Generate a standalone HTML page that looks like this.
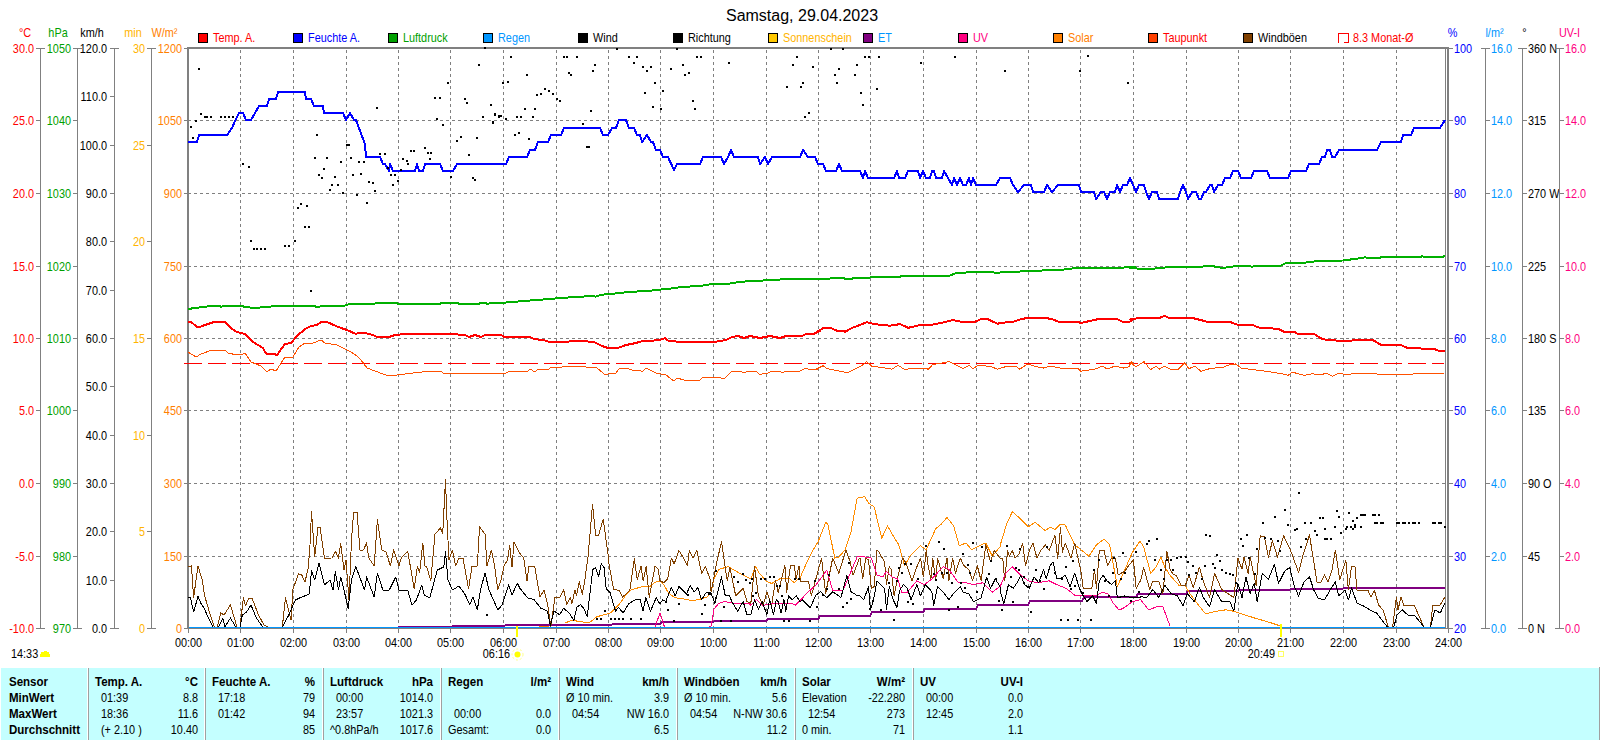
<!DOCTYPE html>
<html><head><meta charset="utf-8"><style>
html,body{margin:0;padding:0;background:#fff;width:1600px;height:740px;overflow:hidden}
svg{display:block;font-family:"Liberation Sans", sans-serif}
</style></head><body>
<svg width="1600" height="740" viewBox="0 0 1600 740" shape-rendering="crispEdges">
<text transform="translate(802 21) scale(1 1)" fill="#000" text-anchor="middle" font-size="16" font-weight="normal" >Samstag, 29.04.2023</text><rect x="198.5" y="33.5" width="9" height="9" fill="#ff0000" stroke="#000" stroke-width="1"/><text transform="translate(213 42) scale(0.87 1)" fill="#ff0000" text-anchor="start" font-size="12.5" font-weight="normal" >Temp. A.</text><rect x="293.5" y="33.5" width="9" height="9" fill="#0000ff" stroke="#000" stroke-width="1"/><text transform="translate(308 42) scale(0.87 1)" fill="#0000ff" text-anchor="start" font-size="12.5" font-weight="normal" >Feuchte A.</text><rect x="388.5" y="33.5" width="9" height="9" fill="#00a000" stroke="#000" stroke-width="1"/><text transform="translate(403 42) scale(0.87 1)" fill="#00a000" text-anchor="start" font-size="12.5" font-weight="normal" >Luftdruck</text><rect x="483.5" y="33.5" width="9" height="9" fill="#0096ff" stroke="#000" stroke-width="1"/><text transform="translate(498 42) scale(0.87 1)" fill="#0096ff" text-anchor="start" font-size="12.5" font-weight="normal" >Regen</text><rect x="578.5" y="33.5" width="9" height="9" fill="#000000" stroke="#000" stroke-width="1"/><text transform="translate(593 42) scale(0.87 1)" fill="#000000" text-anchor="start" font-size="12.5" font-weight="normal" >Wind</text><rect x="673.5" y="33.5" width="9" height="9" fill="#000000" stroke="#000" stroke-width="1"/><text transform="translate(688 42) scale(0.87 1)" fill="#000000" text-anchor="start" font-size="12.5" font-weight="normal" >Richtung</text><rect x="768.5" y="33.5" width="9" height="9" fill="#ffc800" stroke="#000" stroke-width="1"/><text transform="translate(783 42) scale(0.87 1)" fill="#ffb400" text-anchor="start" font-size="12.5" font-weight="normal" >Sonnenschein</text><rect x="863.5" y="33.5" width="9" height="9" fill="#800080" stroke="#000" stroke-width="1"/><text transform="translate(878 42) scale(0.87 1)" fill="#0096ff" text-anchor="start" font-size="12.5" font-weight="normal" >ET</text><rect x="958.5" y="33.5" width="9" height="9" fill="#ff0080" stroke="#000" stroke-width="1"/><text transform="translate(973 42) scale(0.87 1)" fill="#ff0080" text-anchor="start" font-size="12.5" font-weight="normal" >UV</text><rect x="1053.5" y="33.5" width="9" height="9" fill="#ff8000" stroke="#000" stroke-width="1"/><text transform="translate(1068 42) scale(0.87 1)" fill="#ff8000" text-anchor="start" font-size="12.5" font-weight="normal" >Solar</text><rect x="1148.5" y="33.5" width="9" height="9" fill="#ff4000" stroke="#000" stroke-width="1"/><text transform="translate(1163 42) scale(0.87 1)" fill="#ff0000" text-anchor="start" font-size="12.5" font-weight="normal" >Taupunkt</text><rect x="1243.5" y="33.5" width="9" height="9" fill="#804000" stroke="#000" stroke-width="1"/><text transform="translate(1258 42) scale(0.87 1)" fill="#000000" text-anchor="start" font-size="12.5" font-weight="normal" >Windböen</text><path d="M1338.5 43 V33.5 H1348.5 V42.5 H1344" fill="none" stroke="#ff0000" stroke-width="1"/><text transform="translate(1353 42) scale(0.87 1)" fill="#ff0000" text-anchor="start" font-size="12.5" font-weight="normal" >8.3 Monat-Ø</text><text transform="translate(25 37) scale(0.87 1)" fill="#ff0000" text-anchor="middle" font-size="12.5" font-weight="normal" >°C</text><text transform="translate(58 37) scale(0.87 1)" fill="#00a000" text-anchor="middle" font-size="12.5" font-weight="normal" >hPa</text><text transform="translate(92 37) scale(0.87 1)" fill="#000" text-anchor="middle" font-size="12.5" font-weight="normal" >km/h</text><text transform="translate(133 37) scale(0.87 1)" fill="#ffb400" text-anchor="middle" font-size="12.5" font-weight="normal" >min</text><text transform="translate(164.5 37) scale(0.87 1)" fill="#ff8000" text-anchor="middle" font-size="12.5" font-weight="normal" >W/m²</text><text transform="translate(1452.5 37) scale(0.87 1)" fill="#0000ff" text-anchor="middle" font-size="12.5" font-weight="normal" >%</text><text transform="translate(1494.5 37) scale(0.87 1)" fill="#0096ff" text-anchor="middle" font-size="12.5" font-weight="normal" >l/m²</text><text transform="translate(1524.5 37) scale(0.87 1)" fill="#000" text-anchor="middle" font-size="12.5" font-weight="normal" >°</text><text transform="translate(1569.5 37) scale(0.87 1)" fill="#ff0080" text-anchor="middle" font-size="12.5" font-weight="normal" >UV-I</text><line x1="40.5" y1="48" x2="40.5" y2="629" stroke="#808080"/><line x1="36" y1="48.5" x2="45" y2="48.5" stroke="#808080"/><text transform="translate(34 53) scale(0.87 1)" fill="#ff0000" text-anchor="end" font-size="12.5" font-weight="normal" >30.0</text><line x1="36" y1="120.5" x2="40" y2="120.5" stroke="#808080"/><text transform="translate(34 125) scale(0.87 1)" fill="#ff0000" text-anchor="end" font-size="12.5" font-weight="normal" >25.0</text><line x1="36" y1="193.5" x2="40" y2="193.5" stroke="#808080"/><text transform="translate(34 198) scale(0.87 1)" fill="#ff0000" text-anchor="end" font-size="12.5" font-weight="normal" >20.0</text><line x1="36" y1="266.5" x2="40" y2="266.5" stroke="#808080"/><text transform="translate(34 271) scale(0.87 1)" fill="#ff0000" text-anchor="end" font-size="12.5" font-weight="normal" >15.0</text><line x1="36" y1="338.5" x2="40" y2="338.5" stroke="#808080"/><text transform="translate(34 343) scale(0.87 1)" fill="#ff0000" text-anchor="end" font-size="12.5" font-weight="normal" >10.0</text><line x1="36" y1="410.5" x2="40" y2="410.5" stroke="#808080"/><text transform="translate(34 415) scale(0.87 1)" fill="#ff0000" text-anchor="end" font-size="12.5" font-weight="normal" >5.0</text><line x1="36" y1="483.5" x2="40" y2="483.5" stroke="#808080"/><text transform="translate(34 488) scale(0.87 1)" fill="#ff0000" text-anchor="end" font-size="12.5" font-weight="normal" >0.0</text><line x1="36" y1="556.5" x2="40" y2="556.5" stroke="#808080"/><text transform="translate(34 561) scale(0.87 1)" fill="#ff0000" text-anchor="end" font-size="12.5" font-weight="normal" >-5.0</text><line x1="36" y1="628.5" x2="45" y2="628.5" stroke="#808080"/><text transform="translate(34 633) scale(0.87 1)" fill="#ff0000" text-anchor="end" font-size="12.5" font-weight="normal" >-10.0</text><line x1="77.5" y1="48" x2="77.5" y2="629" stroke="#808080"/><line x1="73" y1="48.5" x2="82" y2="48.5" stroke="#808080"/><text transform="translate(71 53) scale(0.87 1)" fill="#00a000" text-anchor="end" font-size="12.5" font-weight="normal" >1050</text><line x1="73" y1="120.5" x2="77" y2="120.5" stroke="#808080"/><text transform="translate(71 125) scale(0.87 1)" fill="#00a000" text-anchor="end" font-size="12.5" font-weight="normal" >1040</text><line x1="73" y1="193.5" x2="77" y2="193.5" stroke="#808080"/><text transform="translate(71 198) scale(0.87 1)" fill="#00a000" text-anchor="end" font-size="12.5" font-weight="normal" >1030</text><line x1="73" y1="266.5" x2="77" y2="266.5" stroke="#808080"/><text transform="translate(71 271) scale(0.87 1)" fill="#00a000" text-anchor="end" font-size="12.5" font-weight="normal" >1020</text><line x1="73" y1="338.5" x2="77" y2="338.5" stroke="#808080"/><text transform="translate(71 343) scale(0.87 1)" fill="#00a000" text-anchor="end" font-size="12.5" font-weight="normal" >1010</text><line x1="73" y1="410.5" x2="77" y2="410.5" stroke="#808080"/><text transform="translate(71 415) scale(0.87 1)" fill="#00a000" text-anchor="end" font-size="12.5" font-weight="normal" >1000</text><line x1="73" y1="483.5" x2="77" y2="483.5" stroke="#808080"/><text transform="translate(71 488) scale(0.87 1)" fill="#00a000" text-anchor="end" font-size="12.5" font-weight="normal" >990</text><line x1="73" y1="556.5" x2="77" y2="556.5" stroke="#808080"/><text transform="translate(71 561) scale(0.87 1)" fill="#00a000" text-anchor="end" font-size="12.5" font-weight="normal" >980</text><line x1="73" y1="628.5" x2="82" y2="628.5" stroke="#808080"/><text transform="translate(71 633) scale(0.87 1)" fill="#00a000" text-anchor="end" font-size="12.5" font-weight="normal" >970</text><line x1="114.5" y1="48" x2="114.5" y2="629" stroke="#808080"/><line x1="110" y1="48.5" x2="119" y2="48.5" stroke="#808080"/><text transform="translate(107 53) scale(0.87 1)" fill="#000" text-anchor="end" font-size="12.5" font-weight="normal" >120.0</text><line x1="110" y1="96.5" x2="114" y2="96.5" stroke="#808080"/><text transform="translate(107 101) scale(0.87 1)" fill="#000" text-anchor="end" font-size="12.5" font-weight="normal" >110.0</text><line x1="110" y1="145.5" x2="114" y2="145.5" stroke="#808080"/><text transform="translate(107 150) scale(0.87 1)" fill="#000" text-anchor="end" font-size="12.5" font-weight="normal" >100.0</text><line x1="110" y1="193.5" x2="114" y2="193.5" stroke="#808080"/><text transform="translate(107 198) scale(0.87 1)" fill="#000" text-anchor="end" font-size="12.5" font-weight="normal" >90.0</text><line x1="110" y1="241.5" x2="114" y2="241.5" stroke="#808080"/><text transform="translate(107 246) scale(0.87 1)" fill="#000" text-anchor="end" font-size="12.5" font-weight="normal" >80.0</text><line x1="110" y1="290.5" x2="114" y2="290.5" stroke="#808080"/><text transform="translate(107 295) scale(0.87 1)" fill="#000" text-anchor="end" font-size="12.5" font-weight="normal" >70.0</text><line x1="110" y1="338.5" x2="114" y2="338.5" stroke="#808080"/><text transform="translate(107 343) scale(0.87 1)" fill="#000" text-anchor="end" font-size="12.5" font-weight="normal" >60.0</text><line x1="110" y1="386.5" x2="114" y2="386.5" stroke="#808080"/><text transform="translate(107 391) scale(0.87 1)" fill="#000" text-anchor="end" font-size="12.5" font-weight="normal" >50.0</text><line x1="110" y1="435.5" x2="114" y2="435.5" stroke="#808080"/><text transform="translate(107 440) scale(0.87 1)" fill="#000" text-anchor="end" font-size="12.5" font-weight="normal" >40.0</text><line x1="110" y1="483.5" x2="114" y2="483.5" stroke="#808080"/><text transform="translate(107 488) scale(0.87 1)" fill="#000" text-anchor="end" font-size="12.5" font-weight="normal" >30.0</text><line x1="110" y1="531.5" x2="114" y2="531.5" stroke="#808080"/><text transform="translate(107 536) scale(0.87 1)" fill="#000" text-anchor="end" font-size="12.5" font-weight="normal" >20.0</text><line x1="110" y1="580.5" x2="114" y2="580.5" stroke="#808080"/><text transform="translate(107 585) scale(0.87 1)" fill="#000" text-anchor="end" font-size="12.5" font-weight="normal" >10.0</text><line x1="110" y1="628.5" x2="119" y2="628.5" stroke="#808080"/><text transform="translate(107 633) scale(0.87 1)" fill="#000" text-anchor="end" font-size="12.5" font-weight="normal" >0.0</text><line x1="151.5" y1="48" x2="151.5" y2="629" stroke="#808080"/><line x1="147" y1="48.5" x2="156" y2="48.5" stroke="#808080"/><text transform="translate(145 53) scale(0.87 1)" fill="#ffb400" text-anchor="end" font-size="12.5" font-weight="normal" >30</text><line x1="147" y1="145.5" x2="151" y2="145.5" stroke="#808080"/><text transform="translate(145 150) scale(0.87 1)" fill="#ffb400" text-anchor="end" font-size="12.5" font-weight="normal" >25</text><line x1="147" y1="241.5" x2="151" y2="241.5" stroke="#808080"/><text transform="translate(145 246) scale(0.87 1)" fill="#ffb400" text-anchor="end" font-size="12.5" font-weight="normal" >20</text><line x1="147" y1="338.5" x2="151" y2="338.5" stroke="#808080"/><text transform="translate(145 343) scale(0.87 1)" fill="#ffb400" text-anchor="end" font-size="12.5" font-weight="normal" >15</text><line x1="147" y1="435.5" x2="151" y2="435.5" stroke="#808080"/><text transform="translate(145 440) scale(0.87 1)" fill="#ffb400" text-anchor="end" font-size="12.5" font-weight="normal" >10</text><line x1="147" y1="531.5" x2="151" y2="531.5" stroke="#808080"/><text transform="translate(145 536) scale(0.87 1)" fill="#ffb400" text-anchor="end" font-size="12.5" font-weight="normal" >5</text><line x1="147" y1="628.5" x2="156" y2="628.5" stroke="#808080"/><text transform="translate(145 633) scale(0.87 1)" fill="#ffb400" text-anchor="end" font-size="12.5" font-weight="normal" >0</text><line x1="184" y1="48.5" x2="188" y2="48.5" stroke="#808080"/><text transform="translate(182 53) scale(0.87 1)" fill="#ff8000" text-anchor="end" font-size="12.5" font-weight="normal" >1200</text><line x1="184" y1="120.5" x2="188" y2="120.5" stroke="#808080"/><text transform="translate(182 125) scale(0.87 1)" fill="#ff8000" text-anchor="end" font-size="12.5" font-weight="normal" >1050</text><line x1="184" y1="193.5" x2="188" y2="193.5" stroke="#808080"/><text transform="translate(182 198) scale(0.87 1)" fill="#ff8000" text-anchor="end" font-size="12.5" font-weight="normal" >900</text><line x1="184" y1="266.5" x2="188" y2="266.5" stroke="#808080"/><text transform="translate(182 271) scale(0.87 1)" fill="#ff8000" text-anchor="end" font-size="12.5" font-weight="normal" >750</text><line x1="184" y1="338.5" x2="188" y2="338.5" stroke="#808080"/><text transform="translate(182 343) scale(0.87 1)" fill="#ff8000" text-anchor="end" font-size="12.5" font-weight="normal" >600</text><line x1="184" y1="410.5" x2="188" y2="410.5" stroke="#808080"/><text transform="translate(182 415) scale(0.87 1)" fill="#ff8000" text-anchor="end" font-size="12.5" font-weight="normal" >450</text><line x1="184" y1="483.5" x2="188" y2="483.5" stroke="#808080"/><text transform="translate(182 488) scale(0.87 1)" fill="#ff8000" text-anchor="end" font-size="12.5" font-weight="normal" >300</text><line x1="184" y1="556.5" x2="188" y2="556.5" stroke="#808080"/><text transform="translate(182 561) scale(0.87 1)" fill="#ff8000" text-anchor="end" font-size="12.5" font-weight="normal" >150</text><line x1="184" y1="628.5" x2="188" y2="628.5" stroke="#808080"/><text transform="translate(182 633) scale(0.87 1)" fill="#ff8000" text-anchor="end" font-size="12.5" font-weight="normal" >0</text><line x1="1448" y1="48.5" x2="1453" y2="48.5" stroke="#808080"/><text transform="translate(1454 53) scale(0.87 1)" fill="#0000ff" text-anchor="start" font-size="12.5" font-weight="normal" >100</text><line x1="1449" y1="120.5" x2="1453" y2="120.5" stroke="#808080"/><text transform="translate(1454 125) scale(0.87 1)" fill="#0000ff" text-anchor="start" font-size="12.5" font-weight="normal" >90</text><line x1="1449" y1="193.5" x2="1453" y2="193.5" stroke="#808080"/><text transform="translate(1454 198) scale(0.87 1)" fill="#0000ff" text-anchor="start" font-size="12.5" font-weight="normal" >80</text><line x1="1449" y1="266.5" x2="1453" y2="266.5" stroke="#808080"/><text transform="translate(1454 271) scale(0.87 1)" fill="#0000ff" text-anchor="start" font-size="12.5" font-weight="normal" >70</text><line x1="1449" y1="338.5" x2="1453" y2="338.5" stroke="#808080"/><text transform="translate(1454 343) scale(0.87 1)" fill="#0000ff" text-anchor="start" font-size="12.5" font-weight="normal" >60</text><line x1="1449" y1="410.5" x2="1453" y2="410.5" stroke="#808080"/><text transform="translate(1454 415) scale(0.87 1)" fill="#0000ff" text-anchor="start" font-size="12.5" font-weight="normal" >50</text><line x1="1449" y1="483.5" x2="1453" y2="483.5" stroke="#808080"/><text transform="translate(1454 488) scale(0.87 1)" fill="#0000ff" text-anchor="start" font-size="12.5" font-weight="normal" >40</text><line x1="1449" y1="556.5" x2="1453" y2="556.5" stroke="#808080"/><text transform="translate(1454 561) scale(0.87 1)" fill="#0000ff" text-anchor="start" font-size="12.5" font-weight="normal" >30</text><line x1="1448" y1="628.5" x2="1453" y2="628.5" stroke="#808080"/><text transform="translate(1454 633) scale(0.87 1)" fill="#0000ff" text-anchor="start" font-size="12.5" font-weight="normal" >20</text><line x1="1485.5" y1="48" x2="1485.5" y2="629" stroke="#808080"/><line x1="1481" y1="48.5" x2="1490" y2="48.5" stroke="#808080"/><text transform="translate(1491 53) scale(0.87 1)" fill="#0096ff" text-anchor="start" font-size="12.5" font-weight="normal" >16.0</text><line x1="1486" y1="120.5" x2="1490" y2="120.5" stroke="#808080"/><text transform="translate(1491 125) scale(0.87 1)" fill="#0096ff" text-anchor="start" font-size="12.5" font-weight="normal" >14.0</text><line x1="1486" y1="193.5" x2="1490" y2="193.5" stroke="#808080"/><text transform="translate(1491 198) scale(0.87 1)" fill="#0096ff" text-anchor="start" font-size="12.5" font-weight="normal" >12.0</text><line x1="1486" y1="266.5" x2="1490" y2="266.5" stroke="#808080"/><text transform="translate(1491 271) scale(0.87 1)" fill="#0096ff" text-anchor="start" font-size="12.5" font-weight="normal" >10.0</text><line x1="1486" y1="338.5" x2="1490" y2="338.5" stroke="#808080"/><text transform="translate(1491 343) scale(0.87 1)" fill="#0096ff" text-anchor="start" font-size="12.5" font-weight="normal" >8.0</text><line x1="1486" y1="410.5" x2="1490" y2="410.5" stroke="#808080"/><text transform="translate(1491 415) scale(0.87 1)" fill="#0096ff" text-anchor="start" font-size="12.5" font-weight="normal" >6.0</text><line x1="1486" y1="483.5" x2="1490" y2="483.5" stroke="#808080"/><text transform="translate(1491 488) scale(0.87 1)" fill="#0096ff" text-anchor="start" font-size="12.5" font-weight="normal" >4.0</text><line x1="1486" y1="556.5" x2="1490" y2="556.5" stroke="#808080"/><text transform="translate(1491 561) scale(0.87 1)" fill="#0096ff" text-anchor="start" font-size="12.5" font-weight="normal" >2.0</text><line x1="1481" y1="628.5" x2="1490" y2="628.5" stroke="#808080"/><text transform="translate(1491 633) scale(0.87 1)" fill="#0096ff" text-anchor="start" font-size="12.5" font-weight="normal" >0.0</text><line x1="1522.5" y1="48" x2="1522.5" y2="629" stroke="#808080"/><line x1="1518" y1="48.5" x2="1527" y2="48.5" stroke="#808080"/><text transform="translate(1528 53) scale(0.87 1)" fill="#000" text-anchor="start" font-size="12.5" font-weight="normal" >360 N</text><line x1="1523" y1="120.5" x2="1527" y2="120.5" stroke="#808080"/><text transform="translate(1528 125) scale(0.87 1)" fill="#000" text-anchor="start" font-size="12.5" font-weight="normal" >315</text><line x1="1523" y1="193.5" x2="1527" y2="193.5" stroke="#808080"/><text transform="translate(1528 198) scale(0.87 1)" fill="#000" text-anchor="start" font-size="12.5" font-weight="normal" >270 W</text><line x1="1523" y1="266.5" x2="1527" y2="266.5" stroke="#808080"/><text transform="translate(1528 271) scale(0.87 1)" fill="#000" text-anchor="start" font-size="12.5" font-weight="normal" >225</text><line x1="1523" y1="338.5" x2="1527" y2="338.5" stroke="#808080"/><text transform="translate(1528 343) scale(0.87 1)" fill="#000" text-anchor="start" font-size="12.5" font-weight="normal" >180 S</text><line x1="1523" y1="410.5" x2="1527" y2="410.5" stroke="#808080"/><text transform="translate(1528 415) scale(0.87 1)" fill="#000" text-anchor="start" font-size="12.5" font-weight="normal" >135</text><line x1="1523" y1="483.5" x2="1527" y2="483.5" stroke="#808080"/><text transform="translate(1528 488) scale(0.87 1)" fill="#000" text-anchor="start" font-size="12.5" font-weight="normal" >90 O</text><line x1="1523" y1="556.5" x2="1527" y2="556.5" stroke="#808080"/><text transform="translate(1528 561) scale(0.87 1)" fill="#000" text-anchor="start" font-size="12.5" font-weight="normal" >45</text><line x1="1518" y1="628.5" x2="1527" y2="628.5" stroke="#808080"/><text transform="translate(1528 633) scale(0.87 1)" fill="#000" text-anchor="start" font-size="12.5" font-weight="normal" >0 N</text><line x1="1559.5" y1="48" x2="1559.5" y2="629" stroke="#808080"/><line x1="1555" y1="48.5" x2="1564" y2="48.5" stroke="#808080"/><text transform="translate(1565 53) scale(0.87 1)" fill="#ff0080" text-anchor="start" font-size="12.5" font-weight="normal" >16.0</text><line x1="1560" y1="120.5" x2="1564" y2="120.5" stroke="#808080"/><text transform="translate(1565 125) scale(0.87 1)" fill="#ff0080" text-anchor="start" font-size="12.5" font-weight="normal" >14.0</text><line x1="1560" y1="193.5" x2="1564" y2="193.5" stroke="#808080"/><text transform="translate(1565 198) scale(0.87 1)" fill="#ff0080" text-anchor="start" font-size="12.5" font-weight="normal" >12.0</text><line x1="1560" y1="266.5" x2="1564" y2="266.5" stroke="#808080"/><text transform="translate(1565 271) scale(0.87 1)" fill="#ff0080" text-anchor="start" font-size="12.5" font-weight="normal" >10.0</text><line x1="1560" y1="338.5" x2="1564" y2="338.5" stroke="#808080"/><text transform="translate(1565 343) scale(0.87 1)" fill="#ff0080" text-anchor="start" font-size="12.5" font-weight="normal" >8.0</text><line x1="1560" y1="410.5" x2="1564" y2="410.5" stroke="#808080"/><text transform="translate(1565 415) scale(0.87 1)" fill="#ff0080" text-anchor="start" font-size="12.5" font-weight="normal" >6.0</text><line x1="1560" y1="483.5" x2="1564" y2="483.5" stroke="#808080"/><text transform="translate(1565 488) scale(0.87 1)" fill="#ff0080" text-anchor="start" font-size="12.5" font-weight="normal" >4.0</text><line x1="1560" y1="556.5" x2="1564" y2="556.5" stroke="#808080"/><text transform="translate(1565 561) scale(0.87 1)" fill="#ff0080" text-anchor="start" font-size="12.5" font-weight="normal" >2.0</text><line x1="1555" y1="628.5" x2="1564" y2="628.5" stroke="#808080"/><text transform="translate(1565 633) scale(0.87 1)" fill="#ff0080" text-anchor="start" font-size="12.5" font-weight="normal" >0.0</text><line x1="240.5" y1="50" x2="240.5" y2="628" stroke="#808080" stroke-dasharray="3 3"/><line x1="293.5" y1="50" x2="293.5" y2="628" stroke="#808080" stroke-dasharray="3 3"/><line x1="346.5" y1="50" x2="346.5" y2="628" stroke="#808080" stroke-dasharray="3 3"/><line x1="398.5" y1="50" x2="398.5" y2="628" stroke="#808080" stroke-dasharray="3 3"/><line x1="450.5" y1="50" x2="450.5" y2="628" stroke="#808080" stroke-dasharray="3 3"/><line x1="503.5" y1="50" x2="503.5" y2="628" stroke="#808080" stroke-dasharray="3 3"/><line x1="556.5" y1="50" x2="556.5" y2="628" stroke="#808080" stroke-dasharray="3 3"/><line x1="608.5" y1="50" x2="608.5" y2="628" stroke="#808080" stroke-dasharray="3 3"/><line x1="660.5" y1="50" x2="660.5" y2="628" stroke="#808080" stroke-dasharray="3 3"/><line x1="713.5" y1="50" x2="713.5" y2="628" stroke="#808080" stroke-dasharray="3 3"/><line x1="766.5" y1="50" x2="766.5" y2="628" stroke="#808080" stroke-dasharray="3 3"/><line x1="818.5" y1="50" x2="818.5" y2="628" stroke="#808080" stroke-dasharray="3 3"/><line x1="870.5" y1="50" x2="870.5" y2="628" stroke="#808080" stroke-dasharray="3 3"/><line x1="923.5" y1="50" x2="923.5" y2="628" stroke="#808080" stroke-dasharray="3 3"/><line x1="976.5" y1="50" x2="976.5" y2="628" stroke="#808080" stroke-dasharray="3 3"/><line x1="1028.5" y1="50" x2="1028.5" y2="628" stroke="#808080" stroke-dasharray="3 3"/><line x1="1080.5" y1="50" x2="1080.5" y2="628" stroke="#808080" stroke-dasharray="3 3"/><line x1="1133.5" y1="50" x2="1133.5" y2="628" stroke="#808080" stroke-dasharray="3 3"/><line x1="1186.5" y1="50" x2="1186.5" y2="628" stroke="#808080" stroke-dasharray="3 3"/><line x1="1238.5" y1="50" x2="1238.5" y2="628" stroke="#808080" stroke-dasharray="3 3"/><line x1="1290.5" y1="50" x2="1290.5" y2="628" stroke="#808080" stroke-dasharray="3 3"/><line x1="1343.5" y1="50" x2="1343.5" y2="628" stroke="#808080" stroke-dasharray="3 3"/><line x1="1396.5" y1="50" x2="1396.5" y2="628" stroke="#808080" stroke-dasharray="3 3"/><line x1="188" y1="120.5" x2="1445" y2="120.5" stroke="#808080" stroke-dasharray="3 3"/><line x1="188" y1="193.5" x2="1445" y2="193.5" stroke="#808080" stroke-dasharray="3 3"/><line x1="188" y1="266.5" x2="1445" y2="266.5" stroke="#808080" stroke-dasharray="3 3"/><line x1="188" y1="338.5" x2="1445" y2="338.5" stroke="#808080" stroke-dasharray="3 3"/><line x1="188" y1="410.5" x2="1445" y2="410.5" stroke="#808080" stroke-dasharray="3 3"/><line x1="188" y1="483.5" x2="1445" y2="483.5" stroke="#808080" stroke-dasharray="3 3"/><line x1="188" y1="556.5" x2="1445" y2="556.5" stroke="#808080" stroke-dasharray="3 3"/><line x1="188.5" y1="628" x2="188.5" y2="633" stroke="#808080"/><text transform="translate(188.5 647) scale(0.87 1)" fill="#000" text-anchor="middle" font-size="12.5" font-weight="normal" >00:00</text><line x1="240.5" y1="628" x2="240.5" y2="633" stroke="#808080"/><text transform="translate(240.5 647) scale(0.87 1)" fill="#000" text-anchor="middle" font-size="12.5" font-weight="normal" >01:00</text><line x1="293.5" y1="628" x2="293.5" y2="633" stroke="#808080"/><text transform="translate(293.5 647) scale(0.87 1)" fill="#000" text-anchor="middle" font-size="12.5" font-weight="normal" >02:00</text><line x1="346.5" y1="628" x2="346.5" y2="633" stroke="#808080"/><text transform="translate(346.5 647) scale(0.87 1)" fill="#000" text-anchor="middle" font-size="12.5" font-weight="normal" >03:00</text><line x1="398.5" y1="628" x2="398.5" y2="633" stroke="#808080"/><text transform="translate(398.5 647) scale(0.87 1)" fill="#000" text-anchor="middle" font-size="12.5" font-weight="normal" >04:00</text><line x1="450.5" y1="628" x2="450.5" y2="633" stroke="#808080"/><text transform="translate(450.5 647) scale(0.87 1)" fill="#000" text-anchor="middle" font-size="12.5" font-weight="normal" >05:00</text><line x1="503.5" y1="628" x2="503.5" y2="633" stroke="#808080"/><text transform="translate(503.5 647) scale(0.87 1)" fill="#000" text-anchor="middle" font-size="12.5" font-weight="normal" >06:00</text><line x1="556.5" y1="628" x2="556.5" y2="633" stroke="#808080"/><text transform="translate(556.5 647) scale(0.87 1)" fill="#000" text-anchor="middle" font-size="12.5" font-weight="normal" >07:00</text><line x1="608.5" y1="628" x2="608.5" y2="633" stroke="#808080"/><text transform="translate(608.5 647) scale(0.87 1)" fill="#000" text-anchor="middle" font-size="12.5" font-weight="normal" >08:00</text><line x1="660.5" y1="628" x2="660.5" y2="633" stroke="#808080"/><text transform="translate(660.5 647) scale(0.87 1)" fill="#000" text-anchor="middle" font-size="12.5" font-weight="normal" >09:00</text><line x1="713.5" y1="628" x2="713.5" y2="633" stroke="#808080"/><text transform="translate(713.5 647) scale(0.87 1)" fill="#000" text-anchor="middle" font-size="12.5" font-weight="normal" >10:00</text><line x1="766.5" y1="628" x2="766.5" y2="633" stroke="#808080"/><text transform="translate(766.5 647) scale(0.87 1)" fill="#000" text-anchor="middle" font-size="12.5" font-weight="normal" >11:00</text><line x1="818.5" y1="628" x2="818.5" y2="633" stroke="#808080"/><text transform="translate(818.5 647) scale(0.87 1)" fill="#000" text-anchor="middle" font-size="12.5" font-weight="normal" >12:00</text><line x1="870.5" y1="628" x2="870.5" y2="633" stroke="#808080"/><text transform="translate(870.5 647) scale(0.87 1)" fill="#000" text-anchor="middle" font-size="12.5" font-weight="normal" >13:00</text><line x1="923.5" y1="628" x2="923.5" y2="633" stroke="#808080"/><text transform="translate(923.5 647) scale(0.87 1)" fill="#000" text-anchor="middle" font-size="12.5" font-weight="normal" >14:00</text><line x1="976.5" y1="628" x2="976.5" y2="633" stroke="#808080"/><text transform="translate(976.5 647) scale(0.87 1)" fill="#000" text-anchor="middle" font-size="12.5" font-weight="normal" >15:00</text><line x1="1028.5" y1="628" x2="1028.5" y2="633" stroke="#808080"/><text transform="translate(1028.5 647) scale(0.87 1)" fill="#000" text-anchor="middle" font-size="12.5" font-weight="normal" >16:00</text><line x1="1080.5" y1="628" x2="1080.5" y2="633" stroke="#808080"/><text transform="translate(1080.5 647) scale(0.87 1)" fill="#000" text-anchor="middle" font-size="12.5" font-weight="normal" >17:00</text><line x1="1133.5" y1="628" x2="1133.5" y2="633" stroke="#808080"/><text transform="translate(1133.5 647) scale(0.87 1)" fill="#000" text-anchor="middle" font-size="12.5" font-weight="normal" >18:00</text><line x1="1186.5" y1="628" x2="1186.5" y2="633" stroke="#808080"/><text transform="translate(1186.5 647) scale(0.87 1)" fill="#000" text-anchor="middle" font-size="12.5" font-weight="normal" >19:00</text><line x1="1238.5" y1="628" x2="1238.5" y2="633" stroke="#808080"/><text transform="translate(1238.5 647) scale(0.87 1)" fill="#000" text-anchor="middle" font-size="12.5" font-weight="normal" >20:00</text><line x1="1290.5" y1="628" x2="1290.5" y2="633" stroke="#808080"/><text transform="translate(1290.5 647) scale(0.87 1)" fill="#000" text-anchor="middle" font-size="12.5" font-weight="normal" >21:00</text><line x1="1343.5" y1="628" x2="1343.5" y2="633" stroke="#808080"/><text transform="translate(1343.5 647) scale(0.87 1)" fill="#000" text-anchor="middle" font-size="12.5" font-weight="normal" >22:00</text><line x1="1396.5" y1="628" x2="1396.5" y2="633" stroke="#808080"/><text transform="translate(1396.5 647) scale(0.87 1)" fill="#000" text-anchor="middle" font-size="12.5" font-weight="normal" >23:00</text><line x1="1448.5" y1="628" x2="1448.5" y2="633" stroke="#808080"/><text transform="translate(1448.5 647) scale(0.87 1)" fill="#000" text-anchor="middle" font-size="12.5" font-weight="normal" >24:00</text><rect x="187" y="47" width="1262" height="2" fill="#808080"/><rect x="187" y="47" width="2" height="582" fill="#808080"/><rect x="1447" y="47" width="2" height="582" fill="#808080"/><rect x="1445" y="49" width="1" height="580" fill="#808080"/><rect x="187" y="628" width="1262" height="1" fill="#808080"/><line x1="184" y1="363.5" x2="1444" y2="363.5" stroke="#ff0000" stroke-width="1" stroke-dasharray="18 6"/>
<path d="M188 352 L196 357 L201 354 L211 350.4 L225 350.4 L229 353.6 L241 355 L245 353 L251 362 L261 366 L267 372 L271 369 L276 371 L285 357 L293 357 L299 347 L305 343 L313 343 L321 340 L325 343 L337 345 L345 349 L351 352 L357 356 L361 360 L367 368 L375 371 L383 374 L389 376 L397 375 L425 371.6 L441 371.6 L445 374 L505 373 L504 374 L508 372 L528 371 L530 369 L535 372 L538 369 L548 369.6 L550 368 L562 367 L564 366 L582 366 L586 367 L596 367 L604 374 L608 374 L616 373 L619 369 L626 368 L632 370 L640 370 L642 372 L646 368 L656 373 L666 375 L674 381 L677 378 L684 380 L700 380 L702 378 L718 377 L724 379 L732 371 L740 371 L744 373 L748 371 L756 371 L760 375 L764 373 L768 373 L772 371 L780 371 L782 373 L786 371 L800 371 L806 368 L810 370 L818 369 L815 369.7 L823.1 365.7 L827.2 368.7 L837.3 370.7 L847.4 372.8 L861.6 365.7 L866.7 361.6 L871.7 366.1 L892 369.1 L898.1 365.3 L904.2 369.3 L918.4 368.1 L928.5 369.1 L932.6 364.6 L944.7 362.6 L948.8 361.6 L956.9 365.3 L963 368.7 L969 365.3 L973.1 368.7 L977.1 365.7 L989.3 366.1 L997.4 369.1 L1007.5 366.1 L1015.6 366.1 L1019.7 369.1 L1027.8 364 L1033.9 366.1 L1044 368.1 L1050.1 366.1 L1060.2 368.1 L1078.5 368.7 L1080.5 371.3 L1094.7 369.1 L1102.8 366.1 L1106.9 369.1 L1115 366.1 L1123.1 368.1 L1129.1 366.7 L1131.2 361.6 L1135.2 366.1 L1130 362.6 L1136.1 366.7 L1144.2 361.6 L1150.3 369.7 L1156.3 366.1 L1159.4 369.1 L1164.5 366.1 L1170.5 369.1 L1178.6 369.1 L1184.7 362.6 L1188.8 368.7 L1194.9 366.1 L1200.9 371.3 L1207 369.3 L1213.1 368.1 L1223.2 367.7 L1227.3 365.3 L1235.4 364 L1241.5 368.1 L1271.9 372.1 L1284 374.2 L1288.1 375.4 L1292.1 372.1 L1304.3 375.4 L1312.4 373.8 L1320.5 374.8 L1326.6 373.2 L1332.7 376.2 L1338.8 373.2 L1346.9 374.8 L1355 373.2 L1373.2 373.2 L1381.3 374.8 L1401.6 374.8 L1409.7 374.8 L1415.8 373.2 L1444.1 373.2" fill="none" stroke="#ff5000" stroke-width="1" stroke-linejoin="round" />
<path d="M188 309 L195 308 L203 307 L215 305.6 L221 306.6 L229 305.6 L241 305.6 L245 307 L255 308 L265 307 L281 305.6 L313 305.6 L317 307 L325 305.6 L345 305.6 L349 304 L373 304 L379 302.6 L395 302.6 L399 304 L439 304 L443 302.6 L457 302.6 L459 304 L479 304 L481 302.6 L485 302.6 L487 304 L493 302.6 L505 302.6 L512 302 L524 301 L536 300 L550 299 L560 298 L576 297 L592 296 L596 296.6 L600 295 L608 294 L622 293 L626 292 L648 291 L656 290 L666 289 L676 288 L680 287 L700 286 L710 284.4 L732 283.4 L738 282 L752 281 L774 280 L786 279 L820 279 L843.4 277.9 L845.4 278.9 L863.6 277.9 L879.9 276.9 L898.1 276.9 L904.2 275.9 L948.8 275.9 L956.9 272.8 L987.3 271.8 L997.4 272.8 L1005.5 271.8 L1013.6 271.8 L1033.9 270.8 L1062.3 269.8 L1072.4 268.4 L1094.7 267.8 L1119 267.8 L1135.2 266.8 L1130 268 L1138.1 268.6 L1154.3 268.6 L1170.5 267 L1200.9 267 L1205 265.9 L1211.1 265.9 L1217.2 267 L1223.2 268 L1229.3 267 L1237.4 265.9 L1247.6 265.9 L1251.6 266.6 L1271.9 265.5 L1280 265.9 L1286.1 262.9 L1306.3 262.5 L1318.5 260.9 L1342.8 260.5 L1359 258.4 L1365.1 257.4 L1373.2 258.4 L1381.3 257.4 L1419.8 257.4 L1421.9 256.4 L1430 257.4 L1445.2 256.4" fill="none" stroke="#00b000" stroke-width="2" stroke-linejoin="round" />
<path d="M188 322 L191 322 L198 327.6 L205 325 L214 322 L225 322 L233 329.6 L237 332 L245 334 L253 342 L263 348 L266 353.6 L273 353.6 L277 355 L285 344 L291 343 L297 336 L305 329 L311 326 L317 325 L321 322 L327 322 L335 325.6 L341 328 L347 330 L355 333.6 L365 333 L373 335 L377 337 L389 337 L395 335 L405 334 L425 334 L451 334 L465 335 L469 337 L475 335 L481 337 L485 335 L501 335 L505 337 L504 337 L530 337 L534 339 L546 340.6 L548 341.6 L564 342 L578 340.6 L594 342 L602 346 L608 348 L618 348 L626 345 L636 343 L640 341.6 L660 340 L665 338 L668 340.6 L680 342 L714 342 L726 340 L732 337 L738 336 L744 338 L750 336 L760 338 L770 336 L780 338 L786 336 L802 336 L806 334 L814 334 L818 331 L820 331 L815 333.6 L823.1 328.2 L831.2 328.2 L837.3 330.8 L845.4 331.6 L851.5 328.2 L859.6 325.1 L866.7 322.1 L873.8 324.1 L890 325.7 L900.1 324.1 L908.2 327.8 L918.4 325.5 L930.5 325.1 L944.7 322.1 L952.8 320.1 L960.9 321.7 L975.1 321.7 L981.2 319 L987.3 319 L997.4 323.7 L1003.5 322.7 L1013.6 321.7 L1021.7 319 L1029.8 317.6 L1042 317.6 L1052.1 319 L1058.2 321.7 L1078.5 321.7 L1080.5 323.1 L1086.6 321.7 L1098.7 319 L1117 319 L1123.1 322.1 L1129.1 322.1 L1133.2 319 L1135.2 319 L1130 319.4 L1142.2 317.6 L1160.4 317.6 L1164.5 316 L1168.5 317.6 L1190.8 317.6 L1200.9 320.1 L1207 321.7 L1229.3 321.7 L1237.4 324.7 L1251.6 324.7 L1259.7 327.8 L1278 328.8 L1284 331.8 L1294.2 331.8 L1298.2 334.2 L1314.4 334.2 L1322.5 339.3 L1344.8 341.3 L1357 339.9 L1373.2 340.3 L1381.3 345 L1401.6 345.4 L1407.7 348 L1434 349 L1438.1 350.5 L1445.2 351.1" fill="none" stroke="#ff0000" stroke-width="2" stroke-linejoin="round" />
<path d="M188 142 L197 142 L199 135 L227 135 L232 128 L235 121 L239 113 L243 113 L246 120 L251 120 L255 113 L259 106 L267 106 L269 99 L276 99 L278 92 L305 92 L306 99 L311 99 L314 106 L323 106 L324 113 L343 113 L346 120 L350 113 L354 120 L356 120 L359 128 L362 136 L365 144 L366 157 L380 157 L383 164 L385 164 L389 171 L390 164 L393 171 L415 171 L417 164 L419 171 L423 171 L425 164 L440 164 L443 171 L453 171 L457 164 L506 164 L509 157 L527 157 L530 150 L535 150 L538 142 L548 142 L551 135 L561 135 L564 128 L600 128 L603 135 L608 135 L612 128 L616 128 L619 120 L626 120 L629 128 L634 128 L637 135 L640 135 L642 142 L647 135 L651 142 L653 142 L656 150 L660 150 L663 157 L668 157 L674 170 L677 164 L700 164 L703 157 L721 157 L724 164 L728 157 L731 150 L734 157 L758 157 L760 164 L765 157 L768 164 L772 157 L800 157 L803 150 L808 157 L815 157 L818 164 L823 164 L826 171 L836 171 L839 164 L842 171 L860 171 L863 178 L865 171 L868 178 L894 178 L897 171 L899 178 L905 178 L908 171 L918 171 L920 178 L923 171 L926 178 L930 178 L932 171 L934 171 L936 178 L942 178 L944 171 L948 178 L952 185 L954 178 L957 185 L960 178 L963 185 L966 185 L969 178 L971 185 L973 178 L976 185 L996 185 L1000 178 L1010 178 L1013 185 L1018 192 L1024 185 L1031 185 L1033 192 L1044 192 L1047 185 L1052 192 L1058 185 L1079 185 L1081 192 L1094 192 L1096 199 L1101 192 L1104 192 L1107 199 L1110 192 L1115 192 L1117 185 L1120 192 L1123 185 L1127 185 L1130 178 L1136 192 L1139 185 L1144 185 L1146 192 L1149 199 L1152 192 L1157 192 L1159 199 L1178 199 L1180 192 L1183 185 L1186 192 L1188 199 L1192 192 L1196 192 L1199 199 L1201 199 L1204 192 L1206 192 L1210 185 L1212 185 L1214 192 L1218 185 L1222 185 L1225 178 L1230 178 L1233 171 L1238 171 L1241 178 L1251 178 L1254 171 L1267 171 L1270 178 L1288 178 L1291 171 L1306 171 L1309 164 L1319 164 L1322 157 L1325 157 L1327 150 L1330 150 L1332 157 L1335 157 L1339 150 L1377 150 L1381 142 L1401 142 L1403 135 L1411 135 L1414 128 L1440 128 L1445 120" fill="none" stroke="#0000ff" stroke-width="2" stroke-linejoin="round" />
<path d="M398 627 L451 627 L453 626 L504 626 L506 625 L611 625 L613 624 L660 624 L662 622 L713 622 L715 621 L766 621 L768 619 L818 619 L820 616 L870 616 L872 612 L923 612 L925 609 L976 609 L978 605 L1028 605 L1030 601 L1082 601 L1084 597 L1136 597 L1138 594 L1186 594 L1188 591 L1238 591 L1240 589.5 L1290 589.5 L1292 588.5 L1343 588.5 L1345 588 L1445 588" fill="none" stroke="#800080" stroke-width="2" stroke-linejoin="round" />
<path d="M564.5 623.3 L570.4 620.8 L579.3 621.1 L585.3 622.6 L589.7 622.3 L597.2 616.6 L603.1 615.1 L610.5 612.9 L619.5 604 L625.4 595.8 L631.4 589.9 L638.8 587.6 L643.2 586.2 L649.2 586.9 L655.1 582.4 L658.9 581.2 L660 580.8 L663.8 584.6 L668.5 593.1 L675.1 597.8 L682.7 598.8 L692.2 600.7 L701.6 598.8 L707.3 596.9 L711.1 592.2 L713.9 578.9 L718.6 569.5 L728.1 566.6 L739.5 573.2 L750.8 578.9 L755.5 566.6 L759.3 573.2 L765.9 580.8 L771.6 583.6 L781.1 578 L788.6 578 L794.3 582.7 L800 577 L800.3 577.4 L806.4 563.2 L812.5 551 L818.5 540.9 L825.6 522.6 L827.7 523.6 L834.8 558.1 L838.8 557.1 L844.9 550 L851 531.7 L857.1 498.3 L860 497.6 L864.7 496.6 L868.5 503.2 L874.2 507 L881.8 538.2 L887.4 525.9 L894.1 537.3 L898.8 544.9 L904.5 565.7 L910.1 556.2 L920.5 545.8 L926.2 549.6 L935.7 528.8 L941.3 524.1 L947 517.4 L953.6 525.9 L959.3 545.8 L965.9 543 L971.6 549.6 L981.1 544.9 L985.8 543 L992.4 556.2 L1000 546.8 L1000.6 543.9 L1006.6 524.1 L1012.3 511.8 L1018.9 517.4 L1028.4 526.9 L1035 522.2 L1045.4 530.7 L1050.1 526.9 L1054.9 529.7 L1060.5 524.1 L1065.3 525 L1074.7 544.9 L1079.5 548.6 L1088.9 556.2 L1096.5 544.9 L1104 539.2 L1109.7 544.9 L1117.3 586.5 L1124.9 569.5 L1132.4 552.4 L1140 541.1 L1143.6 546.9 L1150.7 573.3 L1155.8 567.2 L1160.9 557.1 L1164.9 567.2 L1170 575.3 L1179.1 585.5 L1185.2 585.5 L1189.2 592.6 L1197.4 603.7 L1205.5 613.9 L1213.6 611.8 L1225.8 609.8 L1231.8 610.8 L1242 613.9 L1254.2 617.9 L1268.4 622 L1280.5 626" fill="none" stroke="#ff8c00" stroke-width="1" stroke-linejoin="round" />
<rect x="539" y="626" width="10" height="1" fill="#ff8000"/>
<path d="M188.2 566.2 L191.5 566 L193.6 597.6 L198 566 L202.3 580 L204.5 595.4 L208.8 610 L214.2 627 L217.4 627 L220.7 612.7 L224 615 L230.4 605 L237 627 L240 627 L243.4 597.6 L245.5 606 L248.8 598 L252 598 L258.5 615 L264 625 L268.2 627 L282.3 627 L285.5 597.6 L291 620 L293 589 L298.5 573.8 L301.8 575 L305 582 L308.2 568 L310 545 L311.5 512 L314.7 557 L318 527.3 L320 527 L324.5 558.2 L332 558 L335.3 551 L338.5 558 L340.7 543 L344 570 L346 560 L349 600 L351.5 540 L353.6 512 L357 512 L360 550.4 L363.4 550 L366.6 543 L368.8 558 L374.2 566 L377.4 519.7 L381.8 550 L386 552 L390.4 566 L393.6 550 L399 566 L401.2 558 L407.7 551 L414.2 589 L417.4 566 L419.6 573 L422.8 543 L425 566 L426.5 566 L430.8 581 L435 534 L440.5 528 L442.7 534 L445.5 479.7 L447 520 L449 560 L452.4 550 L455.7 566 L459 558 L463 558 L468.6 589 L472 566 L477.3 566 L479.5 527 L485 534 L487 566 L491.4 550 L494.6 566 L497.8 590 L501 580 L504 566 L507.6 560 L509.7 545 L512 567 L514 542.4 L519.5 553 L523.8 558 L527 581 L529 566 L534.6 566 L540 597 L544 590 L547.6 604 L550.8 627 L555 597 L558.4 597 L560 597.3 L563.7 589.9 L566.7 604.7 L570.4 597.3 L571.9 604 L574.9 589.9 L576.4 595.8 L579.3 581.7 L582.3 594.3 L584.5 582.4 L588.1 556.2 L592.5 504.2 L595.7 535.4 L598.5 535.4 L603.2 519.3 L608 554.3 L609.1 564.6 L613.5 589.1 L619.5 590.6 L622.4 597.3 L629.9 589.9 L634.3 558.7 L637.3 579.5 L641 566.1 L643.2 580.9 L646.2 566.1 L649.2 597.3 L655.1 566.1 L658.1 569.1 L660 580.8 L663.8 582.7 L667.6 578.9 L671.4 558.1 L674.2 563.8 L678.9 550.5 L683.6 558.1 L687.4 565.7 L689.3 550.5 L693.1 558.1 L696.9 550.5 L701.6 573.2 L705.4 566.6 L710.1 578.9 L711.1 592.2 L716.8 561.9 L721.5 542 L727.2 580.8 L730 567.6 L735.7 595.9 L739.5 592.2 L743.2 588.4 L747 601.6 L750.8 603.5 L754.6 566.6 L758.4 595.9 L763.1 605.4 L766.9 592.2 L771.6 605.4 L775.4 580.8 L778.2 592.2 L781.1 580.8 L784.9 565.7 L786.7 592.2 L790.5 565.7 L794.3 565.7 L796.2 578.9 L799 565.7 L800.3 581.4 L808.4 581.4 L811.4 595.6 L818.5 569.2 L821.6 558.1 L825.6 593.6 L832.7 558.1 L838.8 573.3 L845.9 550 L850 561.1 L853 575.3 L859.1 559.1 L860 558.1 L862.8 578.9 L865.7 558.1 L868.5 560 L871.4 588.4 L874.2 586.5 L877 550.5 L878.9 551.5 L881.8 557.2 L884.6 561.9 L886.5 584.6 L889.3 566.6 L891.2 569.5 L894.1 595.9 L896.9 580.8 L899.7 569.5 L902.6 558.1 L905.4 561.9 L908.2 569.5 L912 580.8 L915.8 569.5 L920.5 558.1 L923.4 577 L926.2 550.5 L928.1 565.7 L930.9 578.9 L932.8 558.1 L935.7 580.8 L937.6 558.1 L943.2 578.9 L947 558.1 L948.9 580.8 L952.7 558.1 L955.5 573.2 L960.3 558.1 L964 565.7 L968.8 569.5 L972.6 580.8 L977.3 565.7 L981.1 580.8 L985.8 544.9 L990.5 561.9 L994.3 550.5 L1000 558.1 L1000.3 558 L1000.6 558.1 L1002.8 558.1 L1004.7 580.8 L1007.6 550.5 L1009.5 556.2 L1012.3 550.5 L1015.1 558.1 L1018.9 554.3 L1022.7 543 L1025.5 565.7 L1029.3 550.5 L1033.1 543 L1036.9 558.1 L1040.7 550.5 L1045.4 544.9 L1049.2 550.5 L1054.9 535.4 L1057.7 558.1 L1060.5 527.8 L1062.4 552.4 L1065.3 543 L1070.9 558.1 L1074.7 543 L1081.3 573.2 L1083.2 588.4 L1091.8 588.4 L1094.6 569.5 L1096.5 588.4 L1099.3 550.5 L1104 550.5 L1107.8 565.7 L1111.6 558.1 L1115.4 558.1 L1118.2 575.1 L1121.1 573.2 L1124.9 571.3 L1128.6 565.7 L1133.4 560 L1136.2 588.4 L1140 580.8 L1140.6 581.4 L1143.6 567.2 L1149.7 589.5 L1152.7 581.4 L1158.8 581.4 L1162.9 593.6 L1166.9 551 L1170 569.2 L1173 574.3 L1176.1 575.3 L1181.1 585.5 L1185.2 585.5 L1189.2 575.3 L1193.3 587.5 L1199.4 567.2 L1203.4 581.4 L1209.5 597.6 L1214.6 573.3 L1221.7 589.5 L1233.9 597.6 L1237.9 558.1 L1242 569.2 L1244 557.1 L1248.1 573.3 L1250.1 557.1 L1256.2 585.5 L1260.2 535.8 L1264.3 536.8 L1268.4 557.1 L1272.4 540.9 L1277.5 557.1 L1283.6 535.8 L1289.7 548 L1298.6 572.5 L1303 555 L1309.5 535 L1317 582 L1321 582 L1324.6 575 L1328 582 L1332 570 L1335.4 550 L1339.7 580 L1345.8 560 L1348.4 590 L1351.6 566 L1354.9 566 L1357 590 L1367.8 590 L1371 597 L1374.3 590 L1378.6 605 L1383 610 L1388.4 627 L1392.7 627 L1396.4 597 L1398 610 L1401 597 L1403.5 605 L1414.3 605 L1417.6 613 L1424 627 L1430.5 627 L1432.7 605 L1440 605 L1445 597" fill="none" stroke="#804000" stroke-width="1" stroke-linejoin="round" />
<path d="M655 627 L660 613 L664.5 627 L709.2 627 L711.1 626.2 L713.9 609.2 L718.6 603.5 L724.3 601.6 L735.7 603.5 L748.9 603.5 L750.8 605.4 L756.5 599.7 L762.2 605.4 L773.5 603.5 L792.4 603.5 L795.3 605.4 L800 600.7 L806.4 593.6 L815.5 585.5 L826.7 570.3 L832.7 590.5 L842.9 590.5 L857.1 557.1 L860 556.2 L871.4 558.1 L877 575.1 L882.7 577 L886.5 571.3 L892.2 577 L897.8 578.9 L901.6 592.2 L907.3 592.2 L916.8 580.8 L924.3 584.6 L931.9 578.9 L943.2 566.6 L948.9 569.5 L958.4 582.7 L965.9 582.7 L973.5 584.6 L983 582.7 L992.4 592.2 L1000 586.5 L1000.6 585.5 L1005.7 573.2 L1012.3 566.6 L1020.8 575.1 L1028.4 580.8 L1037.8 582.7 L1049.2 580.8 L1056.8 584.6 L1066.2 588.4 L1075.7 595.9 L1083.2 595.9 L1094.6 595.9 L1103.1 592.2 L1107.8 594 L1113.5 603.5 L1119.2 610.1 L1124.9 607.3 L1132.4 601.6 L1140 599.7 L1140.6 599.7 L1148.7 609.8 L1156.8 606.8 L1162.9 606.8 L1170 626" fill="none" stroke="#ff0080" stroke-width="1" stroke-linejoin="round" />
<path d="M188.2 597.6 L190.4 597 L193.6 612 L198 596.5 L201.2 604 L204.5 608.4 L206.6 614 L213 627 L218.5 627 L222.8 618 L225 627 L230.4 618 L235.8 627 L240 627 L242.3 615 L246.6 612 L251 605 L256.4 618 L262.8 627 L282.3 627 L288.8 615 L295.3 600 L299.6 598 L309.3 594 L311.5 570.5 L314.7 580 L319 563 L324.5 585 L330 580 L333 590 L335.3 571.6 L338.5 590 L340.7 577 L344 590 L348.2 608.4 L351.5 580 L355.8 566.9 L359 575 L364.5 590 L366.6 577 L374.2 597 L377.4 573 L382.8 590 L389.3 590 L395.8 577 L399 590 L407.7 590 L412 605 L416.4 600 L421.8 585 L424.3 595 L429.7 598 L437.3 570 L443.8 567 L445.5 552 L448 580 L452.4 590 L459 586 L465.4 595 L469.7 605 L473 597 L477.3 610 L480.5 590 L485 573 L489 590 L493.5 600 L497.8 610 L502 605 L508.6 585 L512 595 L517.3 583 L520 588.4 L523.8 593.1 L527.6 597.8 L534.2 599.7 L540.8 608.2 L547.4 611.1 L550.3 625.3 L554.1 611.1 L559.7 614.9 L563.5 608.2 L569.2 613 L573.9 620.5 L576.8 607.3 L580.5 604.5 L584.3 609.2 L587.2 616.7 L592.8 569.5 L595.7 567.6 L598.5 577 L601.3 563.8 L604.2 567.6 L606.1 588.4 L609.9 592.2 L615.5 611.1 L618.4 607.3 L623.1 613 L628.8 603.5 L635.4 599.7 L640.1 599.7 L643 611.1 L645.8 597.8 L650.5 611.1 L656.2 597.8 L659.6 603.5 L660 603.5 L662.8 599.7 L665.7 601.6 L671.4 587.4 L675.1 595.9 L678.9 586.5 L682.7 590.3 L686.5 594 L690.3 585.5 L694.1 592.2 L697.8 587.4 L701.6 599.7 L706.3 592.2 L711.1 593.1 L714.9 603.5 L717.7 592.2 L721.5 577 L725.3 595.9 L729.1 595 L731.9 601.6 L737.6 611.1 L743.2 601.6 L747 614.9 L750.8 614.9 L754.6 599.7 L758.4 609.2 L762.2 601.6 L766.9 614.9 L769.7 599.7 L773.5 614.9 L776.3 599.7 L778.2 601.6 L781.1 613 L783.9 599.7 L785.8 611.1 L788.6 595.9 L792.4 599.7 L796.2 595.9 L800 601.6 L802.3 599.7 L810.4 607.8 L815.5 595.6 L820.6 591.6 L826.7 597.6 L832.7 591.6 L840.9 597.6 L846.9 575.3 L851 591.6 L857.1 595.6 L860 595.9 L863.8 599.7 L868.5 586.5 L870.4 609.2 L873.2 601.6 L877 580.8 L880.8 584.6 L884.6 588.4 L886.5 609.2 L889.3 586.5 L893.1 599.7 L896.9 607.3 L899.7 590.3 L903.5 584.6 L907.3 588.4 L911.1 599.7 L916.8 584.6 L920.5 595.9 L925.3 584.6 L929.1 588.4 L931.9 592.2 L933.8 605.4 L937.6 586.5 L943.2 592.2 L948.9 599.7 L954.6 592.2 L960.3 586.5 L963.1 592.2 L968.8 594 L973.5 601.6 L981.1 597.8 L986.7 577 L990.5 588.4 L995.3 578.9 L1000 586.5 L1000.6 592.2 L1003.8 603.5 L1008.5 584.6 L1013.2 588.4 L1017 582.7 L1020.8 575.1 L1024.6 584.6 L1029.3 588.4 L1034.1 577 L1038.8 582.7 L1043.5 569.5 L1046.3 578.9 L1050.1 565.7 L1053 561.9 L1056.8 578.9 L1060.5 578.9 L1065.3 575.1 L1070 586.5 L1074.7 573.2 L1079.5 588.4 L1083.2 595.9 L1087 601.6 L1092.7 595.9 L1096.5 603.5 L1099.3 580.8 L1103.1 575.1 L1106.9 580.8 L1111.6 584.6 L1115.4 580.8 L1117.3 597.8 L1124.9 595.9 L1132.4 597.8 L1140 597.8 L1140.6 596.6 L1146.7 597.6 L1152.7 589.5 L1158.8 597.6 L1164.9 585.5 L1171 593.6 L1177.1 595.6 L1183.2 605.8 L1187.2 593.6 L1194.3 601.7 L1199.4 587.5 L1203.4 597.6 L1209.5 606.8 L1214.6 589.5 L1221.7 601.7 L1229.8 601.7 L1233.9 610.8 L1237.9 583.4 L1242 597.6 L1246 577.4 L1250.1 593.6 L1254.2 583.4 L1257.2 601.7 L1262.3 573.3 L1268.4 579.4 L1274.4 564.2 L1278.5 583.4 L1284.6 571.3 L1289.7 567.2 L1294.3 586 L1298.6 596 L1304 582 L1309.5 577 L1313.8 590 L1318 598 L1324.6 600 L1330 590 L1335.4 582 L1338.6 596 L1345 590 L1348.4 600 L1351.6 588 L1357 603 L1363.5 606 L1370 610 L1376.5 613 L1387.3 627 L1393.8 627 L1397 615 L1402.4 610 L1407.8 615 L1414.3 615 L1424 627 L1430.5 627 L1434.9 610 L1440.3 613 L1445 603" fill="none" stroke="#000000" stroke-width="1" stroke-linejoin="round" />
<path d="M198 68h2v2h-2zM190 126h2v2h-2zM192 137h2v2h-2zM195 120h2v2h-2zM200 113h2v2h-2zM204 116h2v2h-2zM206 116h2v2h-2zM210 116h2v2h-2zM220 116h2v2h-2zM224 116h2v2h-2zM228 116h2v2h-2zM232 116h2v2h-2zM242 163h2v2h-2zM248 166h2v2h-2zM250 240h2v2h-2zM253 248h2v2h-2zM256 248h2v2h-2zM260 248h2v2h-2zM264 248h2v2h-2zM284 245h2v2h-2zM288 245h2v2h-2zM294 240h2v2h-2zM304 226h2v2h-2zM308 226h2v2h-2zM310 290h2v2h-2zM376 107h2v2h-2zM424 147h2v2h-2zM427 152h2v2h-2zM430 152h2v2h-2zM429 158h2v2h-2zM434 97h2v2h-2zM439 97h2v2h-2zM436 118h2v2h-2zM442 124h2v2h-2zM447 82h2v2h-2zM450 176h2v2h-2zM456 140h2v2h-2zM460 136h2v2h-2zM464 98h2v2h-2zM466 102h2v2h-2zM468 154h2v2h-2zM472 177h2v2h-2zM474 179h2v2h-2zM476 137h2v2h-2zM478 64h2v2h-2zM482 116h2v2h-2zM490 104h2v2h-2zM492 121h2v2h-2zM494 113h2v2h-2zM498 115h2v2h-2zM502 82h2v2h-2zM484 47h2v2h-2zM510 56h2v2h-2zM526 74h2v2h-2zM507 81h2v2h-2zM490 104h2v2h-2zM494 114h2v2h-2zM498 116h2v2h-2zM500 115h2v2h-2zM482 116h2v2h-2zM492 122h2v2h-2zM505 118h2v2h-2zM516 116h2v2h-2zM520 116h2v2h-2zM524 108h2v2h-2zM532 116h2v2h-2zM534 108h2v2h-2zM536 94h2v2h-2zM540 93h2v2h-2zM544 88h2v2h-2zM548 90h2v2h-2zM552 93h2v2h-2zM556 98h2v2h-2zM559 100h2v2h-2zM563 56h2v2h-2zM566 56h2v2h-2zM576 56h2v2h-2zM568 72h2v2h-2zM570 74h2v2h-2zM594 64h2v2h-2zM592 70h2v2h-2zM590 110h2v2h-2zM582 123h2v2h-2zM514 134h2v2h-2zM518 132h2v2h-2zM528 138h2v2h-2zM586 146h2v2h-2zM588 146h2v2h-2zM616 48h2v2h-2zM628 56h2v2h-2zM636 56h2v2h-2zM633 62h2v2h-2zM642 66h2v2h-2zM650 66h2v2h-2zM646 70h2v2h-2zM654 82h2v2h-2zM644 92h2v2h-2zM652 106h2v2h-2zM660 108h2v2h-2zM662 90h2v2h-2zM676 48h2v2h-2zM670 68h2v2h-2zM682 64h2v2h-2zM684 74h2v2h-2zM688 72h2v2h-2zM692 100h2v2h-2zM694 108h2v2h-2zM696 56h2v2h-2zM700 56h2v2h-2zM728 62h2v2h-2zM796 56h2v2h-2zM792 64h2v2h-2zM812 66h2v2h-2zM802 82h2v2h-2zM800 86h2v2h-2zM786 86h2v2h-2zM808 112h2v2h-2zM804 116h2v2h-2zM830 48h2v2h-2zM842 48h2v2h-2zM838 68h2v2h-2zM834 74h2v2h-2zM836 82h2v2h-2zM856 64h2v2h-2zM854 74h2v2h-2zM860 92h2v2h-2zM862 104h2v2h-2zM864 56h2v2h-2zM868 56h2v2h-2zM878 56h2v2h-2zM876 88h2v2h-2zM920 62h2v2h-2zM954 56h2v2h-2zM1004 70h2v2h-2zM1087 55h2v2h-2zM1079 70h2v2h-2zM1127 82h2v2h-2zM486 614h2v2h-2zM604 610h2v2h-2zM596 618h2v2h-2zM600 618h2v2h-2zM610 618h2v2h-2zM614 618h2v2h-2zM618 618h2v2h-2zM622 618h2v2h-2zM630 618h2v2h-2zM640 618h2v2h-2zM809 620h2v2h-2zM814 580h2v2h-2zM816 606h2v2h-2zM822 594h2v2h-2zM826 588h2v2h-2zM828 574h2v2h-2zM838 588h2v2h-2zM842 606h2v2h-2zM846 602h2v2h-2zM848 562h2v2h-2zM850 598h2v2h-2zM1294 529h2v2h-2zM1296 528h2v2h-2zM1298 492h2v2h-2zM1304 522h2v2h-2zM1305 538h2v2h-2zM1310 522h2v2h-2zM1314 530h2v2h-2zM1319 517h2v2h-2zM1322 517h2v2h-2zM1324 528h2v2h-2zM1326 538h2v2h-2zM1330 538h2v2h-2zM1334 526h2v2h-2zM1338 516h2v2h-2zM1340 532h2v2h-2zM1348 512h2v2h-2zM1345 528h2v2h-2zM1350 526h2v2h-2zM1354 524h2v2h-2zM1356 517h2v2h-2zM1360 526h2v2h-2zM1364 514h2v2h-2zM1300 546h2v2h-2zM1316 534h2v2h-2zM1324 538h2v2h-2zM1334 526h2v2h-2zM1336 510h2v2h-2zM1346 526h2v2h-2zM1352 528h2v2h-2zM1352 520h2v2h-2zM1354 526h2v2h-2zM1360 514h2v2h-2zM1362 514h2v2h-2zM1372 514h2v2h-2zM1374 514h2v2h-2zM1378 514h2v2h-2zM1374 522h2v2h-2zM1376 522h2v2h-2zM1380 522h2v2h-2zM1382 522h2v2h-2zM1396 522h2v2h-2zM1398 522h2v2h-2zM1402 522h2v2h-2zM1404 522h2v2h-2zM1408 522h2v2h-2zM1412 522h2v2h-2zM1414 522h2v2h-2zM1418 522h2v2h-2zM1432 522h2v2h-2zM1434 522h2v2h-2zM1438 522h2v2h-2zM1440 522h2v2h-2zM1444 526h2v2h-2zM1146 543h2v2h-2zM1148 540h2v2h-2zM1156 538h2v2h-2zM1154 559h2v2h-2zM1160 569h2v2h-2zM1163 578h2v2h-2zM1166 559h2v2h-2zM1170 559h2v2h-2zM1172 569h2v2h-2zM1176 557h2v2h-2zM1180 556h2v2h-2zM1185 556h2v2h-2zM1187 561h2v2h-2zM1188 574h2v2h-2zM1192 565h2v2h-2zM1195 572h2v2h-2zM1201 578h2v2h-2zM1205 534h2v2h-2zM1209 535h2v2h-2zM1204 565h2v2h-2zM1212 563h2v2h-2zM1214 567h2v2h-2zM1216 554h2v2h-2zM1219 560h2v2h-2zM1221 569h2v2h-2zM1225 572h2v2h-2zM1229 573h2v2h-2zM1232 574h2v2h-2zM1235 582h2v2h-2zM1240 538h2v2h-2zM1242 545h2v2h-2zM1246 534h2v2h-2zM1248 557h2v2h-2zM1254 573h2v2h-2zM1256 548h2v2h-2zM1262 522h2v2h-2zM1264 537h2v2h-2zM1270 538h2v2h-2zM1274 516h2v2h-2zM1277 540h2v2h-2zM1279 550h2v2h-2zM1284 509h2v2h-2zM1287 524h2v2h-2zM316 134h2v2h-2zM346 144h2v2h-2zM348 144h2v2h-2zM314 157h2v2h-2zM326 157h2v2h-2zM340 161h2v2h-2zM350 157h2v2h-2zM358 161h2v2h-2zM363 161h2v2h-2zM379 153h2v2h-2zM384 153h2v2h-2zM410 150h2v2h-2zM413 150h2v2h-2zM402 158h2v2h-2zM406 160h2v2h-2zM407 163h2v2h-2zM323 168h2v2h-2zM318 174h2v2h-2zM321 177h2v2h-2zM334 176h2v2h-2zM331 184h2v2h-2zM337 184h2v2h-2zM329 189h2v2h-2zM342 192h2v2h-2zM352 174h2v2h-2zM360 173h2v2h-2zM368 181h2v2h-2zM372 182h2v2h-2zM374 190h2v2h-2zM356 194h2v2h-2zM366 202h2v2h-2zM387 167h2v2h-2zM390 174h2v2h-2zM394 174h2v2h-2zM397 180h2v2h-2zM392 184h2v2h-2zM400 169h2v2h-2zM300 203h2v2h-2zM297 207h2v2h-2zM306 205h2v2h-2zM925 545h2v2h-2zM938 541h2v2h-2zM943 548h2v2h-2zM962 553h2v2h-2zM972 542h2v2h-2zM981 546h2v2h-2zM904 563h2v2h-2zM910 563h2v2h-2zM898 567h2v2h-2zM901 572h2v2h-2zM917 578h2v2h-2zM933 573h2v2h-2zM935 579h2v2h-2zM941 572h2v2h-2zM946 572h2v2h-2zM951 582h2v2h-2zM967 564h2v2h-2zM969 572h2v2h-2zM960 582h2v2h-2zM964 587h2v2h-2zM976 591h2v2h-2zM990 560h2v2h-2zM988 573h2v2h-2zM995 578h2v2h-2zM888 582h2v2h-2zM896 580h2v2h-2zM872 600h2v2h-2zM880 609h2v2h-2zM893 619h2v2h-2zM907 601h2v2h-2zM912 603h2v2h-2zM948 609h2v2h-2zM957 606h2v2h-2zM998 600h2v2h-2zM869 608h2v2h-2zM1006 545h2v2h-2zM1019 548h2v2h-2zM1046 546h2v2h-2zM1010 576h2v2h-2zM1015 567h2v2h-2zM1018 569h2v2h-2zM1023 576h2v2h-2zM1023 582h2v2h-2zM1028 586h2v2h-2zM1035 569h2v2h-2zM1039 580h2v2h-2zM1043 588h2v2h-2zM1054 572h2v2h-2zM1061 578h2v2h-2zM1065 566h2v2h-2zM1070 588h2v2h-2zM1072 560h2v2h-2zM1074 585h2v2h-2zM1082 592h2v2h-2zM1093 569h2v2h-2zM1098 559h2v2h-2zM1104 580h2v2h-2zM1113 557h2v2h-2zM1112 572h2v2h-2zM1120 578h2v2h-2zM1122 552h2v2h-2zM1124 572h2v2h-2zM1108 595h2v2h-2zM1135 551h2v2h-2zM1130 600h2v2h-2zM1001 609h2v2h-2zM1012 601h2v2h-2zM1030 611h2v2h-2zM1060 619h2v2h-2zM1067 619h2v2h-2zM1077 619h2v2h-2zM1090 619h2v2h-2zM1138 591h2v2h-2zM715 570h2v2h-2zM733 576h2v2h-2zM737 581h2v2h-2zM742 573h2v2h-2zM745 579h2v2h-2zM749 582h2v2h-2zM760 578h2v2h-2zM764 578h2v2h-2zM769 576h2v2h-2zM773 576h2v2h-2zM776 585h2v2h-2zM779 585h2v2h-2zM781 595h2v2h-2zM794 578h2v2h-2zM798 578h2v2h-2zM715 597h2v2h-2zM723 606h2v2h-2zM665 601h2v2h-2zM678 603h2v2h-2zM667 609h2v2h-2zM687 594h2v2h-2zM704 604h2v2h-2zM701 613h2v2h-2zM673 620h2v2h-2zM720 620h2v2h-2zM730 620h2v2h-2zM752 595h2v2h-2zM755 592h2v2h-2zM751 578h2v2h-2zM783 620h2v2h-2zM788 620h2v2h-2zM708 593h2v2h-2zM710 593h2v2h-2z" fill="#000"/>
<line x1="189" y1="627.5" x2="1445" y2="627.5" stroke="#0096ff" stroke-width="1"/><rect x="1" y="668" width="1598" height="72" fill="#c4ffff" /><rect x="1599" y="667" width="1" height="73" fill="#a0a0a0" /><rect x="87" y="668" width="1" height="72" fill="#ffffff" /><rect x="88" y="668" width="1" height="72" fill="#a0a0a0" /><rect x="204" y="668" width="1" height="72" fill="#ffffff" /><rect x="205" y="668" width="1" height="72" fill="#a0a0a0" /><rect x="322" y="668" width="1" height="72" fill="#ffffff" /><rect x="323" y="668" width="1" height="72" fill="#a0a0a0" /><rect x="440" y="668" width="1" height="72" fill="#ffffff" /><rect x="441" y="668" width="1" height="72" fill="#a0a0a0" /><rect x="558" y="668" width="1" height="72" fill="#ffffff" /><rect x="559" y="668" width="1" height="72" fill="#a0a0a0" /><rect x="676" y="668" width="1" height="72" fill="#ffffff" /><rect x="677" y="668" width="1" height="72" fill="#a0a0a0" /><rect x="794" y="668" width="1" height="72" fill="#ffffff" /><rect x="795" y="668" width="1" height="72" fill="#a0a0a0" /><rect x="912" y="668" width="1" height="72" fill="#ffffff" /><rect x="913" y="668" width="1" height="72" fill="#a0a0a0" /><text transform="translate(9 686) scale(0.96 1)" fill="#000" text-anchor="start" font-size="12" font-weight="bold" >Sensor</text><text transform="translate(9 702) scale(0.96 1)" fill="#000" text-anchor="start" font-size="12" font-weight="bold" >MinWert</text><text transform="translate(9 718) scale(0.96 1)" fill="#000" text-anchor="start" font-size="12" font-weight="bold" >MaxWert</text><text transform="translate(9 734) scale(0.96 1)" fill="#000" text-anchor="start" font-size="12" font-weight="bold" >Durchschnitt</text><text transform="translate(95 686) scale(0.96 1)" fill="#000" text-anchor="start" font-size="12" font-weight="bold" >Temp. A.</text><text transform="translate(198 686) scale(0.96 1)" fill="#000" text-anchor="end" font-size="12" font-weight="bold" >°C</text><text transform="translate(101 702) scale(0.87 1)" fill="#000" text-anchor="start" font-size="12.5" font-weight="normal" >01:39</text><text transform="translate(198 702) scale(0.87 1)" fill="#000" text-anchor="end" font-size="12.5" font-weight="normal" >8.8</text><text transform="translate(101 718) scale(0.87 1)" fill="#000" text-anchor="start" font-size="12.5" font-weight="normal" >18:36</text><text transform="translate(198 718) scale(0.87 1)" fill="#000" text-anchor="end" font-size="12.5" font-weight="normal" >11.6</text><text transform="translate(101 734) scale(0.87 1)" fill="#000" text-anchor="start" font-size="12.5" font-weight="normal" >(+ 2.10 )</text><text transform="translate(198 734) scale(0.87 1)" fill="#000" text-anchor="end" font-size="12.5" font-weight="normal" >10.40</text><text transform="translate(212 686) scale(0.96 1)" fill="#000" text-anchor="start" font-size="12" font-weight="bold" >Feuchte A.</text><text transform="translate(315 686) scale(0.96 1)" fill="#000" text-anchor="end" font-size="12" font-weight="bold" >%</text><text transform="translate(218 702) scale(0.87 1)" fill="#000" text-anchor="start" font-size="12.5" font-weight="normal" >17:18</text><text transform="translate(315 702) scale(0.87 1)" fill="#000" text-anchor="end" font-size="12.5" font-weight="normal" >79</text><text transform="translate(218 718) scale(0.87 1)" fill="#000" text-anchor="start" font-size="12.5" font-weight="normal" >01:42</text><text transform="translate(315 718) scale(0.87 1)" fill="#000" text-anchor="end" font-size="12.5" font-weight="normal" >94</text><text transform="translate(315 734) scale(0.87 1)" fill="#000" text-anchor="end" font-size="12.5" font-weight="normal" >85</text><text transform="translate(330 686) scale(0.96 1)" fill="#000" text-anchor="start" font-size="12" font-weight="bold" >Luftdruck</text><text transform="translate(433 686) scale(0.96 1)" fill="#000" text-anchor="end" font-size="12" font-weight="bold" >hPa</text><text transform="translate(336 702) scale(0.87 1)" fill="#000" text-anchor="start" font-size="12.5" font-weight="normal" >00:00</text><text transform="translate(433 702) scale(0.87 1)" fill="#000" text-anchor="end" font-size="12.5" font-weight="normal" >1014.0</text><text transform="translate(336 718) scale(0.87 1)" fill="#000" text-anchor="start" font-size="12.5" font-weight="normal" >23:57</text><text transform="translate(433 718) scale(0.87 1)" fill="#000" text-anchor="end" font-size="12.5" font-weight="normal" >1021.3</text><text transform="translate(330 734) scale(0.87 1)" fill="#000" text-anchor="start" font-size="12.5" font-weight="normal" >^0.8hPa/h</text><text transform="translate(433 734) scale(0.87 1)" fill="#000" text-anchor="end" font-size="12.5" font-weight="normal" >1017.6</text><text transform="translate(448 686) scale(0.96 1)" fill="#000" text-anchor="start" font-size="12" font-weight="bold" >Regen</text><text transform="translate(551 686) scale(0.96 1)" fill="#000" text-anchor="end" font-size="12" font-weight="bold" >l/m²</text><text transform="translate(454 718) scale(0.87 1)" fill="#000" text-anchor="start" font-size="12.5" font-weight="normal" >00:00</text><text transform="translate(551 718) scale(0.87 1)" fill="#000" text-anchor="end" font-size="12.5" font-weight="normal" >0.0</text><text transform="translate(448 734) scale(0.87 1)" fill="#000" text-anchor="start" font-size="12.5" font-weight="normal" >Gesamt:</text><text transform="translate(551 734) scale(0.87 1)" fill="#000" text-anchor="end" font-size="12.5" font-weight="normal" >0.0</text><text transform="translate(566 686) scale(0.96 1)" fill="#000" text-anchor="start" font-size="12" font-weight="bold" >Wind</text><text transform="translate(669 686) scale(0.96 1)" fill="#000" text-anchor="end" font-size="12" font-weight="bold" >km/h</text><text transform="translate(566 702) scale(0.87 1)" fill="#000" text-anchor="start" font-size="12.5" font-weight="normal" >Ø 10 min.</text><text transform="translate(669 702) scale(0.87 1)" fill="#000" text-anchor="end" font-size="12.5" font-weight="normal" >3.9</text><text transform="translate(572 718) scale(0.87 1)" fill="#000" text-anchor="start" font-size="12.5" font-weight="normal" >04:54</text><text transform="translate(669 718) scale(0.87 1)" fill="#000" text-anchor="end" font-size="12.5" font-weight="normal" >NW 16.0</text><text transform="translate(669 734) scale(0.87 1)" fill="#000" text-anchor="end" font-size="12.5" font-weight="normal" >6.5</text><text transform="translate(684 686) scale(0.96 1)" fill="#000" text-anchor="start" font-size="12" font-weight="bold" >Windböen</text><text transform="translate(787 686) scale(0.96 1)" fill="#000" text-anchor="end" font-size="12" font-weight="bold" >km/h</text><text transform="translate(684 702) scale(0.87 1)" fill="#000" text-anchor="start" font-size="12.5" font-weight="normal" >Ø 10 min.</text><text transform="translate(787 702) scale(0.87 1)" fill="#000" text-anchor="end" font-size="12.5" font-weight="normal" >5.6</text><text transform="translate(690 718) scale(0.87 1)" fill="#000" text-anchor="start" font-size="12.5" font-weight="normal" >04:54</text><text transform="translate(787 718) scale(0.87 1)" fill="#000" text-anchor="end" font-size="12.5" font-weight="normal" >N-NW 30.6</text><text transform="translate(787 734) scale(0.87 1)" fill="#000" text-anchor="end" font-size="12.5" font-weight="normal" >11.2</text><text transform="translate(802 686) scale(0.96 1)" fill="#000" text-anchor="start" font-size="12" font-weight="bold" >Solar</text><text transform="translate(905 686) scale(0.96 1)" fill="#000" text-anchor="end" font-size="12" font-weight="bold" >W/m²</text><text transform="translate(802 702) scale(0.87 1)" fill="#000" text-anchor="start" font-size="12.5" font-weight="normal" >Elevation</text><text transform="translate(905 702) scale(0.87 1)" fill="#000" text-anchor="end" font-size="12.5" font-weight="normal" >-22.280</text><text transform="translate(808 718) scale(0.87 1)" fill="#000" text-anchor="start" font-size="12.5" font-weight="normal" >12:54</text><text transform="translate(905 718) scale(0.87 1)" fill="#000" text-anchor="end" font-size="12.5" font-weight="normal" >273</text><text transform="translate(802 734) scale(0.87 1)" fill="#000" text-anchor="start" font-size="12.5" font-weight="normal" >0 min.</text><text transform="translate(905 734) scale(0.87 1)" fill="#000" text-anchor="end" font-size="12.5" font-weight="normal" >71</text><text transform="translate(920 686) scale(0.96 1)" fill="#000" text-anchor="start" font-size="12" font-weight="bold" >UV</text><text transform="translate(1023 686) scale(0.96 1)" fill="#000" text-anchor="end" font-size="12" font-weight="bold" >UV-I</text><text transform="translate(926 702) scale(0.87 1)" fill="#000" text-anchor="start" font-size="12.5" font-weight="normal" >00:00</text><text transform="translate(1023 702) scale(0.87 1)" fill="#000" text-anchor="end" font-size="12.5" font-weight="normal" >0.0</text><text transform="translate(926 718) scale(0.87 1)" fill="#000" text-anchor="start" font-size="12.5" font-weight="normal" >12:45</text><text transform="translate(1023 718) scale(0.87 1)" fill="#000" text-anchor="end" font-size="12.5" font-weight="normal" >2.0</text><text transform="translate(1023 734) scale(0.87 1)" fill="#000" text-anchor="end" font-size="12.5" font-weight="normal" >1.1</text><text transform="translate(11 658) scale(0.87 1)" fill="#000" text-anchor="start" font-size="12.5" font-weight="normal" >14:33</text><path d="M44 651h3v1h2v2h1v3h-10v-3h1v-2h3z" fill="#ffff00"/><rect x="516" y="626" width="2" height="11" fill="#ffff00"/><text transform="translate(510 658) scale(0.87 1)" fill="#000" text-anchor="end" font-size="12.5" font-weight="normal" >06:16</text><circle cx="517.5" cy="654.5" r="3" fill="#ffff00" shape-rendering="auto"/><circle cx="517.5" cy="654.5" r="5.5" fill="none" stroke="#ffff80" stroke-width="1" stroke-dasharray="2 2" shape-rendering="auto"/><rect x="1280" y="624" width="2" height="13" fill="#ffff00"/><text transform="translate(1275 658) scale(0.87 1)" fill="#000" text-anchor="end" font-size="12.5" font-weight="normal" >20:49</text><rect x="1278.5" y="651.5" width="5" height="5" fill="none" stroke="#ffff60" stroke-width="1"/>
</svg></body></html>
